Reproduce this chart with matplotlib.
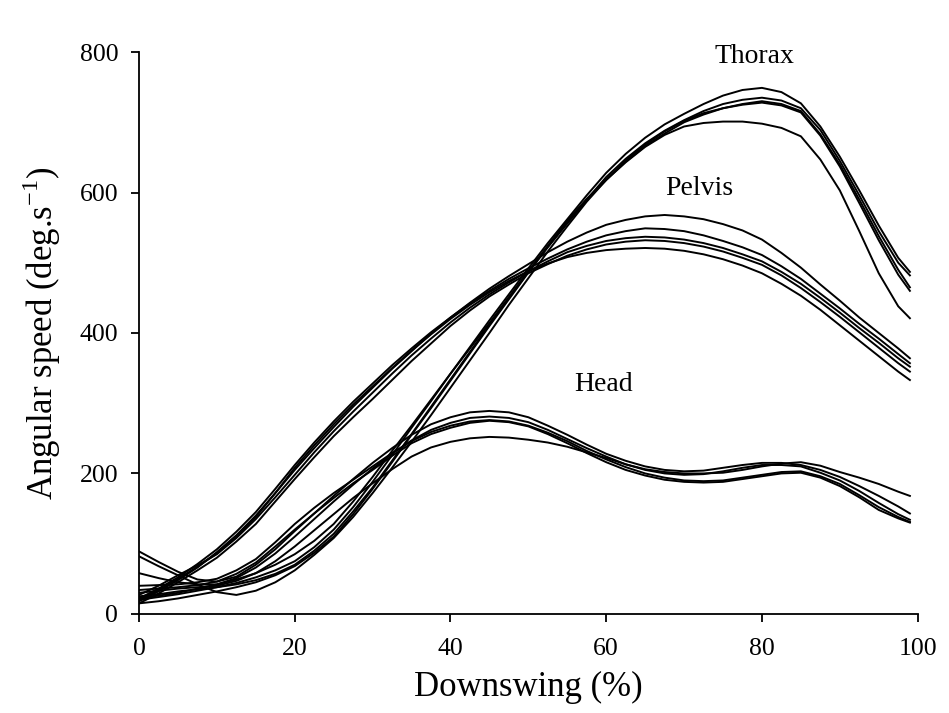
import matplotlib
matplotlib.use("Agg")
import matplotlib.pyplot as plt
import numpy as np

plt.rcParams['font.family'] = ['Liberation Serif', 'DejaVu Serif']
plt.rcParams['mathtext.fontset'] = 'custom'
plt.rcParams['mathtext.rm'] = 'Liberation Serif'

# downswing (%)
pct = [0, 2.5, 5, 7.5, 10, 12.5, 15, 17.5, 20, 22.5, 25, 27.5, 30, 32.5, 35, 37.5, 40,
       42.5, 45, 47.5, 50, 52.5, 55, 57.5, 60, 62.5, 65, 67.5, 70, 72.5, 75, 77.5, 80,
       82.5, 85, 87.5, 90, 92.5, 95, 97.5, 99]

# thorax angular speed (deg/s), one list per trial
thorax_1 = [20, 24, 28, 33, 38, 44, 52, 62, 75, 95, 120, 152, 188, 226, 265, 303, 342,
            380, 418, 455, 492, 528, 562, 596, 628, 655, 678, 697, 712, 726, 738, 746, 749,
            743, 727, 694, 651, 603, 553, 507, 487]
thorax_2 = [15, 18, 22, 27, 32, 38, 45, 55, 68, 87, 110, 142, 178, 216, 255, 293, 332,
            371, 410, 448, 486, 522, 556, 590, 622, 648, 670, 688, 703, 716, 726, 732, 735,
            731, 720, 689, 645, 596, 545, 500, 482]
thorax_3 = [25, 28, 32, 35, 38, 42, 48, 57, 70, 90, 114, 146, 180, 218, 256, 295, 334,
            373, 412, 450, 487, 523, 557, 589, 618, 644, 666, 684, 700, 711, 720, 726, 730,
            726, 716, 683, 640, 590, 538, 490, 465]
thorax_4 = [82, 68, 55, 42, 31, 27, 33, 45, 62, 84, 108, 138, 172, 208, 245, 283, 322,
            361, 400, 440, 478, 516, 552, 587, 618, 646, 668, 687, 702, 713, 720, 725, 728,
            724, 714, 681, 637, 585, 532, 483, 460]
thorax_5 = [22, 26, 30, 36, 42, 49, 58, 70, 85, 104, 128, 160, 195, 232, 268, 305, 342,
            378, 414, 451, 488, 524, 560, 591, 618, 643, 665, 682, 694, 699, 701, 701, 698,
            692, 680, 647, 603, 545, 485, 438, 421]

# pelvis
pelvis_1 = [18, 32, 48, 66, 88, 112, 140, 172, 205, 236, 266, 295, 322, 349, 374, 399, 422,
            443, 463, 481, 498, 515, 530, 543, 554, 561, 566, 568, 566, 562, 555, 546, 533,
            514, 493, 469, 446, 422, 400, 378, 364]
pelvis_2 = [22, 36, 52, 71, 92, 117, 145, 178, 212, 244, 274, 302, 328, 354, 378, 401, 422,
            442, 460, 477, 492, 506, 519, 530, 539, 545, 549, 548, 545, 539, 531, 522, 511,
            495, 477, 456, 435, 413, 392, 370, 357]
pelvis_3 = [27, 40, 55, 69, 85, 108, 135, 166, 198, 230, 260, 288, 315, 342, 368, 392, 415,
            436, 455, 472, 488, 502, 515, 524, 531, 535, 537, 536, 533, 528, 521, 512, 502,
            487, 470, 450, 429, 407, 386, 364, 352]
pelvis_4 = [15, 29, 45, 62, 80, 103, 128, 160, 192, 223, 253, 280, 306, 333, 360, 385, 410,
            432, 452, 469, 485, 498, 510, 519, 526, 530, 532, 531, 528, 523, 516, 507, 497,
            482, 464, 444, 423, 401, 379, 357, 345]
pelvis_5 = [20, 34, 50, 67, 86, 110, 138, 172, 208, 240, 270, 298, 324, 350, 375, 398, 420,
            440, 458, 474, 488, 499, 508, 514, 518, 520, 521, 520, 517, 512, 505, 496, 485,
            470, 453, 433, 411, 389, 367, 345, 333]

# head
head_1 = [89, 74, 60, 49, 46, 53, 70, 92, 118, 143, 168, 192, 215, 236, 255, 270, 280,
          287, 289, 287, 280, 268, 255, 241, 228, 218, 210, 205, 203, 204, 208, 212, 215,
          215, 212, 205, 195, 182, 168, 153, 143]
head_2 = [58, 51, 45, 42, 42, 51, 66, 86, 110, 135, 160, 184, 207, 228, 247, 262, 272,
          279, 281, 279, 273, 262, 249, 236, 224, 213, 205, 200, 198, 199, 203, 208, 212,
          212, 210, 201, 190, 175, 158, 142, 134]
head_3 = [40, 41, 42, 45, 50, 62, 78, 102, 128, 151, 172, 191, 210, 229, 246, 259, 268,
          274, 276, 274, 268, 258, 246, 232, 220, 209, 200, 194, 190, 189, 190, 194, 198,
          202, 203, 196, 185, 169, 152, 138, 131]
head_4 = [34, 36, 38, 41, 46, 57, 73, 96, 120, 143, 165, 186, 205, 225, 243, 256, 265,
          272, 275, 273, 267, 256, 243, 229, 216, 205, 197, 191, 188, 187, 188, 192, 196,
          200, 201, 194, 182, 166, 148, 136, 130]
head_5 = [30, 33, 36, 38, 40, 47, 58, 75, 96, 119, 142, 165, 186, 206, 224, 237, 245,
          250, 252, 251, 248, 244, 238, 230, 222, 213, 206, 202, 200, 200, 201, 205, 210,
          214, 216, 211, 202, 194, 185, 174, 168]

curves = [thorax_1, thorax_2, thorax_3, thorax_4, thorax_5,
          pelvis_1, pelvis_2, pelvis_3, pelvis_4, pelvis_5,
          head_1, head_2, head_3, head_4, head_5]

fig = plt.figure(figsize=(9.49, 7.13), dpi=100)
ax = fig.add_axes([0.1465, 0.139, 0.8205, 0.788])

for c in curves:
    ax.plot(pct, c, color='black', linewidth=1.4)

ax.text(79, 793, 'Thorax', ha='center', va='center', fontsize=20)
ax.text(72, 606, 'Pelvis', ha='center', va='center', fontsize=20)
ax.text(59.6, 326, 'Head', ha='center', va='center', fontsize=20)

ax.set_xlim(0, 100)
ax.set_ylim(0, 800)
ax.set_xticks([0, 20, 40, 60, 80, 100])
ax.set_yticks([0, 200, 400, 600, 800])
ax.spines['top'].set_visible(False)
ax.spines['right'].set_visible(False)
ax.spines['left'].set_linewidth(1.3)
ax.spines['bottom'].set_linewidth(1.3)
ax.tick_params(direction='out', length=6, width=1.3, labelsize=18.5)
ax.tick_params(axis='x', pad=11)
ax.tick_params(axis='y', pad=9)

ax.set_xlabel('Downswing (%)', fontsize=25, va='center')
ax.set_ylabel('Angular speed (deg.s$^{\\mathrm{-1}}$)', fontsize=25, va='center')
ax.xaxis.set_label_coords(0.5, -0.1317)
ax.yaxis.set_label_coords(-0.1245, 0.5)

fig.savefig('out.png', dpi=100)
